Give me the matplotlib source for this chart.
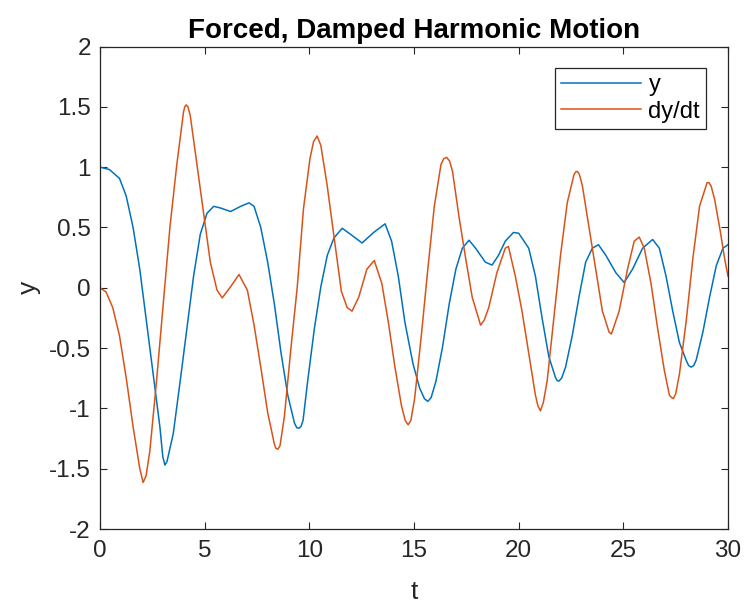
import matplotlib
matplotlib.use("Agg")
import matplotlib.pyplot as plt

# values
t_y = [0.0, 0.45, 0.93, 1.25, 1.58, 1.90, 2.22, 2.54, 2.86, 3.00, 3.10, 3.20,
       3.50, 3.83, 4.15, 4.47, 4.79, 5.11, 5.43, 5.76, 6.24, 6.72, 7.12, 7.36,
       7.68, 8.01, 8.33, 8.65, 8.97, 9.29, 9.40, 9.50, 9.60, 9.70, 9.92, 10.24,
       10.55, 10.86, 11.18, 11.57, 11.97, 12.52, 13.07, 13.62, 13.93, 14.25,
       14.56, 14.95, 15.27, 15.50, 15.66, 15.82, 16.05, 16.37, 16.68, 17.00,
       17.31, 17.63, 17.94, 18.41, 18.73, 19.04, 19.36, 19.75, 20.00, 20.48,
       20.80, 21.12, 21.44, 21.76, 21.84, 21.92, 22.05, 22.24, 22.56, 22.88,
       23.20, 23.52, 23.81, 24.16, 24.64, 25.04, 25.44, 25.92, 26.40, 26.72,
       27.04, 27.36, 27.68, 28.00, 28.12, 28.24, 28.36, 28.48, 28.80, 29.12,
       29.44, 29.76, 30.0]
y = [1.00, 0.98, 0.907, 0.762, 0.50, 0.154, -0.281, -0.716, -1.151, -1.40,
     -1.47, -1.44, -1.209, -0.774, -0.339, 0.096, 0.443, 0.617, 0.675, 0.661,
     0.632, 0.675, 0.704, 0.675, 0.50, 0.212, -0.136, -0.542, -0.89, -1.122,
     -1.16, -1.165, -1.15, -1.10, -0.774, -0.339, 0.009, 0.27, 0.414, 0.493,
     0.443, 0.371, 0.458, 0.530, 0.386, 0.096, -0.281, -0.629, -0.832, -0.92,
     -0.942, -0.91, -0.774, -0.484, -0.136, 0.154, 0.328, 0.394, 0.328, 0.212,
     0.188, 0.27, 0.386, 0.458, 0.452, 0.328, 0.096, -0.252, -0.571, -0.745,
     -0.77, -0.774, -0.75, -0.658, -0.397, -0.078, 0.212, 0.328, 0.357, 0.27,
     0.125, 0.043, 0.154, 0.328, 0.40, 0.328, 0.096, -0.194, -0.455, -0.60,
     -0.645, -0.658, -0.645, -0.60, -0.368, -0.078, 0.183, 0.328, 0.357]

t_dy = [0.0, 0.29, 0.61, 0.93, 1.25, 1.58, 1.90, 2.06, 2.20, 2.38, 2.70, 3.02,
        3.34, 3.67, 3.99, 4.05, 4.12, 4.20, 4.31, 4.63, 4.95, 5.27, 5.59, 5.84,
        6.24, 6.64, 7.04, 7.36, 7.68, 8.01, 8.33, 8.40, 8.49, 8.60, 8.81, 9.13,
        9.42, 9.72, 10.03, 10.20, 10.37, 10.55, 10.85, 11.22, 11.53, 11.81,
        12.04, 12.36, 12.75, 13.10, 13.46, 13.77, 14.09, 14.40, 14.58, 14.72,
        14.85, 15.03, 15.35, 15.66, 15.97, 16.29, 16.42, 16.56, 16.70, 16.84,
        17.15, 17.47, 17.78, 18.18, 18.35, 18.57, 18.96, 19.36, 19.51, 19.84,
        20.16, 20.48, 20.80, 20.92, 21.04, 21.18, 21.36, 21.68, 22.00, 22.32,
        22.64, 22.72, 22.80, 22.90, 23.04, 23.36, 23.68, 24.00, 24.32, 24.43,
        24.80, 25.20, 25.52, 25.76, 26.00, 26.32, 26.64, 26.96, 27.20, 27.30,
        27.39, 27.50, 27.68, 28.00, 28.32, 28.64, 28.96, 29.00, 29.09, 29.20,
        29.36, 29.60, 29.84, 30.0]
dy = [0.0, -0.035, -0.165, -0.397, -0.745, -1.151, -1.499, -1.614, -1.56,
      -1.354, -0.774, -0.136, 0.501, 1.023, 1.458, 1.50, 1.516, 1.50, 1.429,
      1.023, 0.617, 0.212, -0.02, -0.084, 0.009, 0.11, -0.02, -0.31, -0.658,
      -1.035, -1.296, -1.33, -1.339, -1.31, -1.064, -0.484, 0.0, 0.655, 1.07,
      1.21, 1.258, 1.18, 0.85, 0.37, -0.03, -0.165, -0.194, -0.078, 0.154,
      0.226, 0.038, -0.281, -0.658, -0.977, -1.10, -1.136, -1.10, -0.919,
      -0.397, 0.154, 0.675, 1.023, 1.07, 1.081, 1.05, 0.965, 0.588, 0.241,
      -0.078, -0.31, -0.27, -0.165, 0.125, 0.328, 0.342, 0.096, -0.194, -0.542,
      -0.89, -0.98, -1.02, -0.95, -0.774, -0.252, 0.27, 0.704, 0.936, 0.96,
      0.965, 0.94, 0.849, 0.501, 0.154, -0.194, -0.368, -0.383, -0.194, 0.154,
      0.386, 0.42, 0.328, 0.038, -0.339, -0.687, -0.89, -0.91, -0.919, -0.88,
      -0.716, -0.281, 0.241, 0.675, 0.849, 0.87, 0.872, 0.84, 0.733, 0.501,
      0.241, 0.096]

x_ticks = [0, 5, 10, 15, 20, 25, 30]
y_ticks = [-2, -1.5, -1, -0.5, 0, 0.5, 1, 1.5, 2]
y_tick_labels = ["-2", "-1.5", "-1", "-0.5", "0", "0.5", "1", "1.5", "2"]

plt.rcParams["font.family"] = ["Liberation Sans", "DejaVu Sans"]

fig = plt.figure(figsize=(7.48, 6.03), dpi=100)
ax = fig.add_axes([100 / 748, 1 - 529 / 603, 628 / 748, 482.5 / 603])

ax.plot(t_y, y, color="#0072BD", lw=1.1, label="y")
ax.plot(t_dy, dy, color="#D95319", lw=1.1, label="dy/dt")

ax.set_xlim(0, 30)
ax.set_ylim(-2, 2)
ax.set_xticks(x_ticks)
ax.set_yticks(y_ticks)
ax.set_yticklabels(y_tick_labels)
ax.tick_params(direction="in", length=5, width=0.8, top=True, right=True,
               labelsize=17.5, colors="#262626")
ax.tick_params(axis="x", pad=8)
ax.tick_params(axis="y", pad=6.5)
for s in ax.spines.values():
    s.set_color("#262626")
    s.set_linewidth(0.9)

ax.set_title("Forced, Damped Harmonic Motion", fontsize=20, fontweight="bold", pad=6)
ax.set_xlabel("t", fontsize=19, color="#262626", labelpad=13)
ax.set_ylabel("y", fontsize=19, color="#262626", labelpad=6)

leg = ax.legend(loc="upper right", bbox_to_anchor=(706 / 748, 1 - 68 / 603),
                bbox_transform=fig.transFigure, borderaxespad=0, fontsize=17,
                fancybox=False, framealpha=1, edgecolor="#262626",
                handlelength=3.4, handletextpad=0.3, labelspacing=0.2,
                borderpad=0.25)
leg.get_frame().set_linewidth(0.9)

fig.savefig("out.png", dpi=100)
